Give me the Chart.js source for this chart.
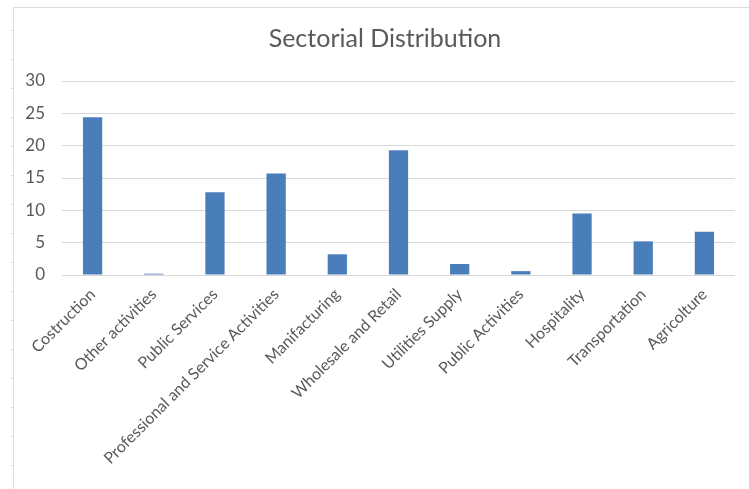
<!DOCTYPE html>
<html>
<head>
<meta charset="utf-8">
<style>
  html, body { margin: 0; padding: 0; background: #ffffff; }
  #wrap { width: 749px; height: 489px; position: relative; }
</style>
<script src="https://cdn.jsdelivr.net/npm/chart.js@4/dist/chart.umd.min.js"></script>
</head>
<body>
<div id="wrap"><canvas id="chart" width="749" height="489"></canvas></div>
<script>
// Share of employment by sector (%)
const sectors = [
  'Costruction', 'Other activities', 'Public Services',
  'Professional and Service Activities', 'Manifacturing',
  'Wholesale and Retail', 'Utilities Supply', 'Public Activities',
  'Hospitality', 'Transportation', 'Agricolture'
];
const shares = [24.4, 0.2, 12.8, 15.7, 3.2, 19.3, 1.7, 0.6, 9.5, 5.2, 6.7];
const yTicks = [0, 5, 10, 15, 20, 25, 30];
const chartTitle = 'Sectorial Distribution';

const textGrey = '#595959';
const gridGrey = '#d9d9d9';
const barBlue = '#4a7ebb';
const fontFamily = 'Lato, "Open Sans", "Liberation Sans", sans-serif';

// Light frame with small marks down the left edge
const framePlugin = {
  id: 'frame',
  afterLayout(chart) {
    // centre the title over the area between the frame and the plot's right edge
    if (chart.titleBlock) chart.titleBlock.left = 35;
  },
  beforeDraw(chart) {
    const ctx = chart.ctx;
    ctx.save();
    ctx.fillStyle = '#ffffff';
    ctx.fillRect(0, 0, chart.width, chart.height);
    ctx.strokeStyle = '#dcdcdc';
    ctx.lineWidth = 1;
    ctx.beginPath();
    ctx.moveTo(13.5, 7);
    ctx.lineTo(13.5, chart.height);
    ctx.moveTo(13, 7.5);
    ctx.lineTo(chart.width, 7.5);
    ctx.stroke();
    ctx.strokeStyle = '#e6e6e6';
    ctx.beginPath();
    for (let y = 30; y < chart.height; y += 29) {
      ctx.moveTo(10, y + 0.5);
      ctx.lineTo(13, y + 0.5);
    }
    ctx.stroke();
    ctx.restore();
  }
};

new Chart(document.getElementById('chart'), {
  type: 'bar',
  data: {
    labels: sectors,
    datasets: [{
      data: shares,
      backgroundColor: barBlue,
      borderWidth: 0,
      barPercentage: 0.63,
      categoryPercentage: 0.5
    }]
  },
  plugins: [framePlugin],
  options: {
    responsive: false,
    animation: false,
    devicePixelRatio: 1,
    layout: { padding: { left: 14, right: 14, top: 8, bottom: 0 } },
    plugins: {
      legend: { display: false },
      tooltip: { enabled: false },
      title: {
        display: true,
        text: chartTitle,
        color: textGrey,
        font: { family: fontFamily, size: 25, weight: 'normal' },
        padding: { top: 16, bottom: 27 }
      }
    },
    scales: {
      x: {
        grid: { display: false },
        border: { display: false },
        ticks: {
          color: textGrey,
          font: { family: fontFamily, size: 16 },
          minRotation: 45,
          maxRotation: 45,
          autoSkip: false,
          padding: 2
        },
        afterFit(scale) { scale.height = 214; }
      },
      y: {
        min: 0,
        max: 30,
        afterBuildTicks(scale) { scale.ticks = yTicks.map(v => ({ value: v })); },
        grid: { color: gridGrey, drawTicks: false },
        border: { display: false },
        ticks: {
          color: textGrey,
          font: { family: fontFamily, size: 17 },
          padding: 17
        },
        afterFit(scale) { scale.width = 48; }
      }
    }
  }
});
</script>
</body>
</html>
